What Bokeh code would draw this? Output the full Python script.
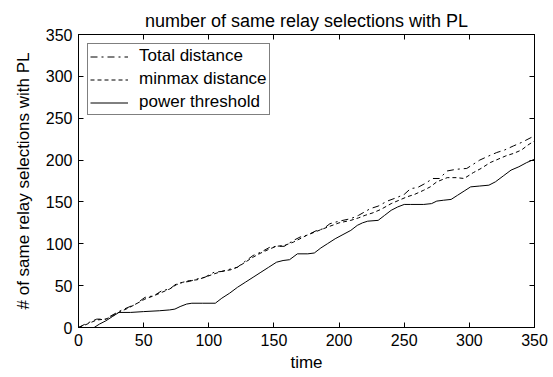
from bokeh.plotting import figure
from bokeh.models import LinearAxis, Range1d, FixedTicker, Legend, LegendItem, CustomJSTickFormatter
from bokeh.embed import file_html
from bokeh.resources import INLINE

# ---- data ----
total_t = [0, 5, 14, 21, 25, 32, 38, 44, 51, 58, 64, 70, 75, 80, 85, 91, 97, 104, 110, 117,
           122, 127, 134, 140, 147, 152, 158, 165, 170, 175, 183, 188, 193, 200, 209, 215, 224,
           230, 237, 244, 250, 255, 260, 266, 272, 277, 283, 290, 298, 303, 308, 315, 321, 327,
           334, 340, 345, 350]
total_v = [0, 4, 10, 10, 14, 20, 24, 28, 36, 38, 44, 46, 52, 54, 55, 58, 60, 66, 67, 70,
           72, 78, 86, 90, 96, 97, 97, 104, 108, 110, 116, 118, 124, 127, 130, 134, 142,
           145, 151, 155, 159, 166, 167, 172, 178, 178, 187, 189, 190, 195, 200, 205, 209, 212,
           217, 221, 225, 229]

minmax_t = [0, 5, 14, 21, 25, 32, 38, 44, 51, 58, 64, 70, 75, 80, 85, 91, 97, 104, 110, 117,
            122, 127, 134, 140, 147, 152, 158, 165, 170, 175, 183, 188, 193, 200, 209, 215, 220,
            226, 232, 240, 246, 252, 258, 265, 270, 275, 283, 290, 296, 303, 309, 316, 322, 328,
            334, 340, 345, 350]
minmax_v = [0, 3, 9, 10, 13, 19, 23, 28, 34, 38, 42, 46, 51, 54, 56, 57, 60, 64, 67, 69,
            72, 77, 84, 89, 94, 97, 98, 102, 106, 110, 115, 118, 121, 125, 128, 131, 134,
            137, 141, 148, 152, 156, 159, 164, 168, 174, 179, 179, 178, 185, 190, 197, 201, 205,
            208, 212, 218, 223]

power_t = [0, 12, 16, 21, 26, 31, 40, 50, 62, 70, 74, 78, 83, 87, 95, 105, 110, 116, 122, 128,
           134, 140, 146, 152, 157, 162, 168, 176, 181, 186, 191, 197, 203, 209, 214, 218, 222,
           230, 235, 240, 245, 250, 255, 265, 271, 275, 280, 286, 291, 296, 301, 308, 315, 320,
           326, 332, 338, 344, 350]
power_v = [0, 0, 4, 8, 13, 18, 18, 19, 20, 21, 22, 25, 28, 29, 29, 29, 35, 41, 48, 54,
           60, 66, 72, 78, 80, 81, 88, 88, 89, 95, 100, 106, 111, 116, 122, 125, 127,
           128, 134, 140, 144, 147, 147, 147, 148, 151, 152, 153, 158, 163, 168, 169, 170, 174,
           181, 188, 192, 197, 201]

x_ticks = [0, 50, 100, 150, 200, 250, 300, 350]
y_ticks = [0, 50, 100, 150, 200, 250, 300, 350]

FONT = "Liberation Sans"
FS_TICK = "16px"
FS_TEXT = "17px"

p = figure(width=553, height=377, output_backend="svg", toolbar_location=None,
           x_range=Range1d(0, 350), y_range=Range1d(0, 350),
           min_border_left=78, min_border_right=19, min_border_top=34, min_border_bottom=50,
           title="number of same relay selections with PL")
p.background_fill_color = "white"
p.border_fill_color = "white"
p.outline_line_color = "black"
p.outline_line_width = 1
p.xgrid.visible = False
p.ygrid.visible = False

p.title.align = "center"
p.title.text_font = FONT
p.title.text_font_size = "18px"
p.title.text_font_style = "normal"
p.title.text_color = "black"
p.title.standoff = 7

def style_axis(ax, ticks, labels=True):
    ax.ticker = FixedTicker(ticks=ticks)
    ax.major_tick_in = 5
    ax.major_tick_out = 0
    ax.minor_tick_in = 0
    ax.minor_tick_out = 0
    ax.axis_line_color = "black"
    ax.major_tick_line_color = "black"
    ax.major_label_text_font = FONT
    ax.major_label_text_font_size = FS_TICK
    ax.major_label_text_color = "black"
    ax.axis_label_text_font = FONT
    ax.axis_label_text_font_size = FS_TEXT
    ax.axis_label_text_font_style = "normal"
    ax.axis_label_text_color = "black"
    if not labels:
        ax.formatter = CustomJSTickFormatter(code="return ''")
        ax.major_label_standoff = 0
        ax.major_label_text_font_size = "1px"

style_axis(p.xaxis[0], x_ticks)
style_axis(p.yaxis[0], y_ticks)
p.xaxis[0].axis_label = "time"
p.yaxis[0].axis_label = "# of same relay selections with PL"
p.xaxis[0].major_label_standoff = 6
p.xaxis[0].axis_label_standoff = 4
p.yaxis[0].major_label_standoff = 6
p.yaxis[0].axis_label_standoff = 10

top_ax = LinearAxis()
style_axis(top_ax, x_ticks, labels=False)
p.add_layout(top_ax, "above")
right_ax = LinearAxis()
style_axis(right_ax, y_ticks, labels=False)
p.add_layout(right_ax, "right")

r_total = p.line(total_t, total_v, line_color="black", line_width=1, line_dash="7 4 2 4")
r_minmax = p.line(minmax_t, minmax_v, line_color="black", line_width=1, line_dash="4 3")
r_power = p.line(power_t, power_v, line_color="black", line_width=1)

legend = Legend(items=[
    LegendItem(label="Total distance", renderers=[r_total]),
    LegendItem(label="minmax distance", renderers=[r_minmax]),
    LegendItem(label="power threshold", renderers=[r_power]),
], location="top_left")
legend.margin = 9
legend.padding = 2
legend.spacing = 3
legend.label_height = 17
legend.glyph_height = 17
legend.glyph_width = 38
legend.label_standoff = 11
legend.label_text_font = FONT
legend.label_text_font_size = FS_TEXT
legend.label_text_color = "black"
legend.border_line_color = "black"
legend.border_line_width = 1
legend.background_fill_color = "white"
legend.background_fill_alpha = 1
p.add_layout(legend)

open("out.html", "w").write(file_html(p, INLINE))
